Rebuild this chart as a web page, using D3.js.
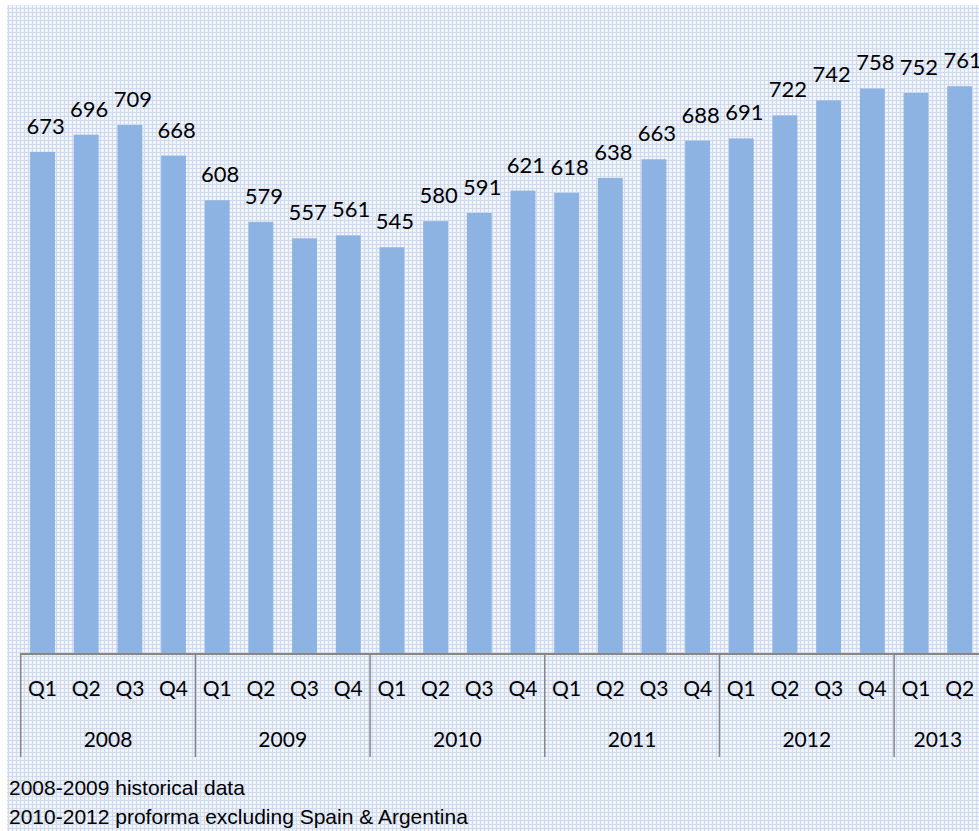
<!DOCTYPE html>
<html>
<head>
<meta charset="utf-8">
<script src="https://cdn.jsdelivr.net/npm/d3@7/dist/d3.min.js"></script>
<style>
html, body { margin: 0; padding: 0; background: #ffffff; }
svg { display: block; }
</style>
</head>
<body>
<script>
// ---- data ----
const years = ["2008", "2009", "2010", "2011", "2012", "2013"];
const quarters = ["Q1","Q2","Q3","Q4","Q1","Q2","Q3","Q4","Q1","Q2","Q3","Q4","Q1","Q2","Q3","Q4","Q1","Q2","Q3","Q4","Q1","Q2"];
const quarterYear = ["2008","2008","2008","2008","2009","2009","2009","2009","2010","2010","2010","2010","2011","2011","2011","2011","2012","2012","2012","2012","2013","2013"];
const values = [673,696,709,668,608,579,557,561,545,580,591,621,618,638,663,688,691,722,742,758,752,761];
const notes = ["2008-2009 historical data", "2010-2012 proforma excluding Spain & Argentina"];

// ---- layout ----
const W = 979, H = 831;
const svg = d3.select("body").append("svg").attr("width", W).attr("height", H);

const defs = svg.append("defs");
const pat = defs.append("pattern").attr("id", "grid").attr("patternUnits", "userSpaceOnUse")
  .attr("width", 4).attr("height", 4);
pat.append("rect").attr("width", 4).attr("height", 4).attr("fill", "#eef2fa");
pat.append("rect").attr("x", 0).attr("y", 0).attr("width", 4).attr("height", 1).attr("fill", "#cfdaee");
pat.append("rect").attr("x", 0).attr("y", 0).attr("width", 1).attr("height", 4).attr("fill", "#cfdaee");
pat.append("rect").attr("x", 2).attr("y", 2).attr("width", 1).attr("height", 1).attr("fill", "#ffffff");

svg.append("rect").attr("x", 7).attr("y", 5).attr("width", W - 7).attr("height", H - 5).attr("fill", "url(#grid)");

const idx = values.map((d, i) => i);
const x = d3.scaleBand().domain(idx).range([20.7, 981.5]).paddingInner(0.43).paddingOuter(0.215);
const y = d3.scaleLinear().domain([0, 800]).range([653.5, 653.5 - 800 * 0.7454]);

// bars
svg.append("g").selectAll("rect").data(values).join("rect")
  .attr("x", (d, i) => x(i))
  .attr("y", d => y(d))
  .attr("width", x.bandwidth())
  .attr("height", d => y(0) - y(d))
  .attr("fill", "#8db3e2");

// data labels
svg.append("g").selectAll("text").data(values).join("text")
  .attr("x", (d, i) => x(i) + x.bandwidth() / 2 + 3)
  .attr("y", d => y(d) - 18)
  .attr("text-anchor", "middle")
  .attr("font-family", "Lato, 'Open Sans', sans-serif")
  .attr("font-size", 22)
  .attr("fill", "#000")
  .text(d => d);

// category axis
const axisG = svg.append("g");
axisG.append("line")
  .attr("x1", x.range()[0]).attr("x2", x.range()[1])
  .attr("y1", 654).attr("y2", 654)
  .attr("stroke", "#868686").attr("stroke-width", 2);

// quarter labels
axisG.selectAll("text.q").data(quarters).join("text")
  .attr("class", "q")
  .attr("x", (d, i) => x(i) + x.bandwidth() / 2)
  .attr("y", 696)
  .attr("text-anchor", "middle")
  .attr("font-family", "Lato, 'Open Sans', sans-serif")
  .attr("font-size", 21)
  .attr("fill", "#000")
  .text(d => d);

// year groups
const step = x.step();
const groups = years.map(yr => {
  const ids = idx.filter(i => quarterYear[i] === yr);
  const x0 = x(ids[0]) - x.paddingInner() * step / 2;
  const x1 = x(ids[ids.length - 1]) + x.bandwidth() + x.paddingInner() * step / 2;
  return { yr, x0, x1 };
});

axisG.selectAll("line.sep").data(groups).join("line")
  .attr("class", "sep")
  .attr("x1", d => d.x0).attr("x2", d => d.x0)
  .attr("y1", 653).attr("y2", 757)
  .attr("stroke", "#868686").attr("stroke-width", 1.5);

axisG.selectAll("text.yr").data(groups).join("text")
  .attr("class", "yr")
  .attr("x", d => (d.x0 + d.x1) / 2)
  .attr("y", 747)
  .attr("text-anchor", "middle")
  .attr("font-family", "Lato, 'Open Sans', sans-serif")
  .attr("font-size", 21)
  .attr("fill", "#000")
  .text(d => d.yr);

// footnotes
svg.append("g").selectAll("text").data(notes).join("text")
  .attr("x", 9)
  .attr("y", (d, i) => 795 + i * 29)
  .attr("font-family", "'Liberation Sans', Arial, sans-serif")
  .attr("font-size", 21)
  .attr("fill", "#000")
  .text(d => d);
</script>
</body>
</html>
